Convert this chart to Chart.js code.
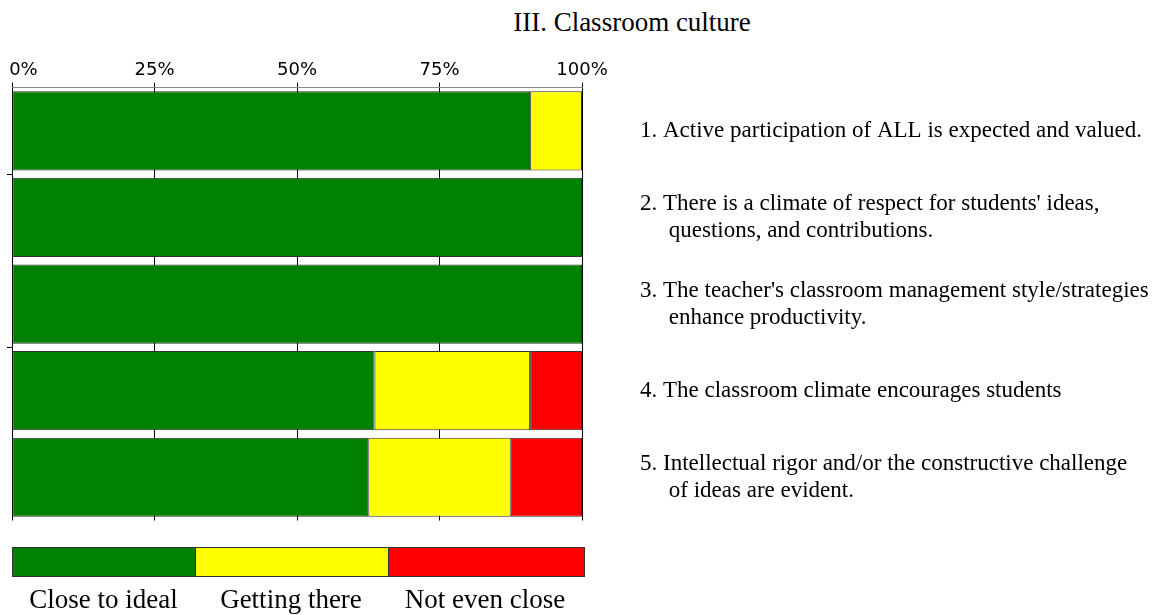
<!DOCTYPE html>
<html>
<head>
<meta charset="utf-8">
<script src="https://cdn.jsdelivr.net/npm/chart.js@4"></script>
<style>
    body { margin: 0; background: #fff; overflow: hidden; }
    #wrap { position: relative; width: 1167px; height: 615px; overflow: hidden; }
    #chartTitle {
        position: absolute; left: 432px; top: 7px; width: 400px;
        text-align: center; font: 27px "Liberation Serif", serif; color: #000;
    }
    #barChart { position: absolute; left: -18px; top: 0; }
    #legendBar {
        position: absolute; left: 12px; top: 547px; width: 571px; height: 28px;
        border: 1px solid #333; display: flex;
    }
    #legendBar div { height: 100%; }
    #legendLabels {
        position: absolute; left: 12px; top: 584px; width: 573px; display: flex;
        font: 27px "Liberation Serif", serif; color: #000;
    }
    #legendLabels span { text-align: center; white-space: nowrap; }
</style>
</head>
<body>
<div id="wrap">
    <div id="chartTitle">III. Classroom culture</div>
    <canvas id="barChart" width="1185" height="592"></canvas>
    <div id="legendBar"></div>
    <div id="legendLabels"></div>
</div>
<script>
const items = [
    ['1. Active participation of ALL is expected and valued.'],
    ['2. There is a climate of respect for students\' ideas,', '     questions, and contributions.'],
    ['3. The teacher\'s classroom management style/strategies', '     enhance productivity.'],
    ['4. The classroom climate encourages students'],
    ['5. Intellectual rigor and/or the constructive challenge', '     of ideas are evident.']
];

const seriesNames = ['Close to ideal', 'Getting there', 'Not even close'];
const seriesColors = ['#008000', '#ffff00', '#ff0000'];

// pourcentages
const closeToIdeal = [90.9, 100, 100, 63.6, 62.5];
const gettingThere = [9.1, 0, 0, 27.3, 25];
const notEvenClose = [0, 0, 0, 9.1, 12.5];

const tickValues = [0, 25, 50, 75, 100];

// legende en bande continue sous le graphique
const legendWidths = [183, 192, 196];
const legendBar = document.getElementById('legendBar');
const legendLabels = document.getElementById('legendLabels');
seriesNames.forEach((name, i) => {
    const seg = document.createElement('div');
    seg.style.width = legendWidths[i] + 'px';
    seg.style.background = seriesColors[i];
    if (i > 0) seg.style.borderLeft = '1px solid #333';
    legendBar.appendChild(seg);

    const lbl = document.createElement('span');
    lbl.style.width = legendWidths[i] + 'px';
    lbl.textContent = name;
    legendLabels.appendChild(lbl);
});

const serieValues = [closeToIdeal, gettingThere, notEvenClose];

const ctx = document.getElementById('barChart').getContext('2d');
new Chart(ctx, {
    type: 'bar',
    data: {
        labels: items,
        datasets: serieValues.map((vals, i) => ({
            label: seriesNames[i],
            data: vals,
            backgroundColor: seriesColors[i],
            borderColor: '#333',
            borderWidth: 1,
            borderSkipped: false,
            categoryPercentage: 1,
            barPercentage: 0.915
        }))
    },
    options: {
        indexAxis: 'y',
        responsive: false,
        animation: false,
        layout: { padding: { top: 59, bottom: 5, left: 0, right: 0 } },
        plugins: {
            legend: { display: false },
            title: { display: false },
            tooltip: { enabled: false }
        },
        scales: {
            x: {
                position: 'top',
                stacked: true,
                min: 0,
                max: 100,
                afterBuildTicks: scale => {
                    scale.ticks = tickValues.map(v => ({ value: v }));
                },
                ticks: {
                    // le 0% est cale a droite du premier trait comme dans l'original
                    callback: v => (v === 0 ? '    0%' : v + '%'),
                    color: '#000',
                    padding: 1,
                    maxRotation: 0,
                    font: { family: 'DejaVu Sans', size: 18 }
                },
                grid: { color: '#000', tickLength: 5 },
                border: { color: '#888' }
            },
            y: {
                position: 'right',
                stacked: true,
                afterFit: scale => { scale.width = 585; },
                ticks: {
                    crossAlign: 'near',
                    padding: 58,
                    color: '#000',
                    font: { family: 'Liberation Serif', size: 23, lineHeight: 1.17 }
                },
                grid: { display: false, drawTicks: false },
                border: { display: false }
            },
            yLeft: {
                type: 'category',
                position: 'left',
                offset: true,
                afterFit: scale => { scale.width = 30; },
                ticks: { display: false },
                grid: {
                    offset: true,
                    drawOnChartArea: false,
                    tickLength: 5,
                    color: c => (c.index % 2 === 1 ? '#000' : 'rgba(0,0,0,0)')
                },
                border: { display: false }
            }
        }
    }
});
</script>
</body>
</html>
